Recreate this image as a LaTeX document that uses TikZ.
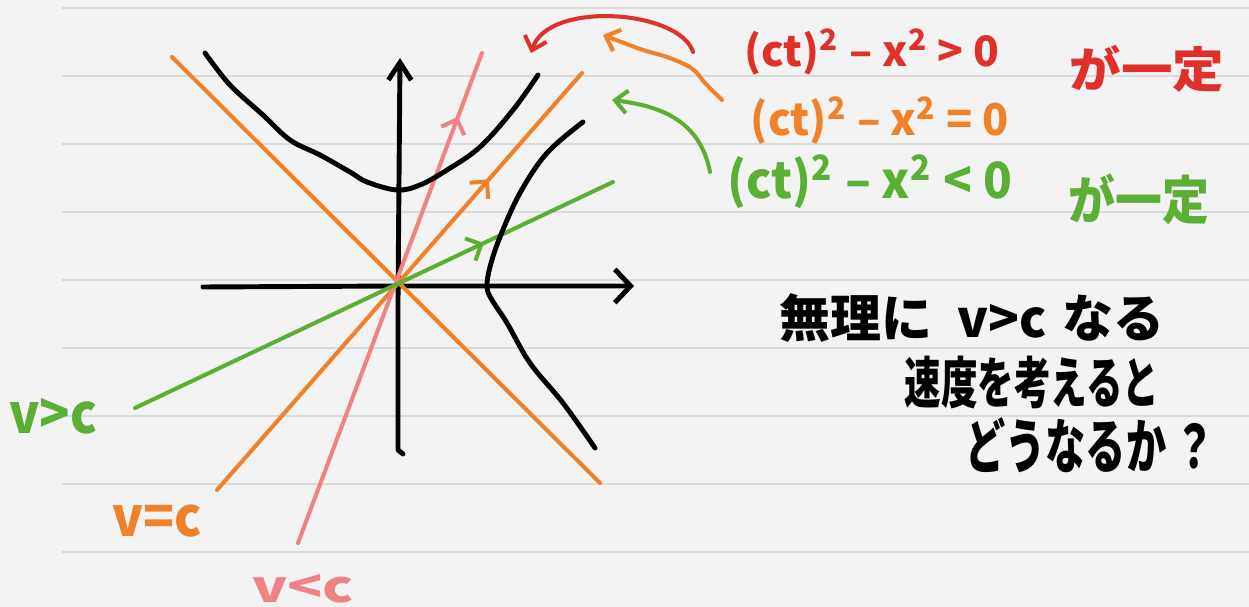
\documentclass[tikz,border=0pt]{standalone}
\usepackage{fontspec}
\setmainfont{Noto Sans CJK JP}
\usetikzlibrary{arrows.meta,decorations.markings}
\definecolor{paper}{HTML}{F3F3F3}
\definecolor{ruleclr}{HTML}{DADADA}
\definecolor{myred}{HTML}{E0302A}
\definecolor{myorange}{HTML}{F08128}
\definecolor{mygreen}{HTML}{5BAF35}
\definecolor{mypink}{HTML}{F08284}
\newcommand{\mysq}{\textsuperscript{2}}
\begin{document}
\begin{tikzpicture}[x=0.02cm,y=-0.02cm,
  pen/.style={line width=2.8pt,line cap=round,line join=round},
  cline/.style={line width=2.3pt,line cap=round,line join=round},
  ruleline/.style={ruleclr,line width=0.8pt},
  tip/.style={-{Straight Barb[length=7pt,width=13pt]}},
  midarrow/.style={postaction={decorate},decoration={markings,
    mark=at position #1 with {\arrow{Straight Barb[length=7pt,width=14pt]}}}},
  lbl/.style={inner sep=0pt,anchor=center,font=\bfseries}]
\fill[paper] (0,0) rectangle (1249,607);
\useasboundingbox (0,0) rectangle (1249,607);
\foreach \y in {8,76,...,552} \draw[ruleline] (62,\y) -- (1249,\y);

% axes
\draw[pen,-{Straight Barb[length=10pt,width=13pt]}] (403,454) -- (398,450) -- (398,300) -- (400,58);
\draw[pen,-{Straight Barb[length=9pt,width=19pt]}] (203,287) -- (400,286) -- (634,286);

% light-cone and world lines
\draw[cline,myorange] (172,57) -- (600,483);
\draw[cline,myorange,midarrow=0.745] (217,490) -- (582,73);
\draw[cline,mypink,midarrow=0.87] (298,543) -- (482,53);
\draw[cline,mygreen,midarrow=0.73] (135,408) -- (613,182);

% hyperbolas
\draw[pen] plot[smooth,tension=0.6] coordinates {(205,53) (230,85) (263,115) (290,140) (320,155) (350,172) (367,182) (397,190) (420,185) (447,170) (480,147) (513,110) (538,75)};
\draw[pen] plot[smooth,tension=0.6] coordinates {(583,122) (547,153) (520,193) (500,237) (490,267) (487,287) (492,300) (507,323) (530,363) (563,403) (595,448)};

% equations
\node[lbl,text=myred] (eqR) at (872,52) {\resizebox{145pt}{21pt}{(ct)\mysq{} – x\mysq{} > 0}};
\node[lbl,text=myred] (ktR) at (1147,69) {\resizebox{88pt}{24pt}{が一定}};
\node[lbl,text=myorange] (eqO) at (880,121) {\resizebox{147pt}{22pt}{(ct)\mysq{} – x\mysq{} = 0}};
\node[lbl,text=mygreen] (eqG) at (870,182) {\resizebox{162pt}{25pt}{(ct)\mysq{} – x\mysq{} < 0}};
\node[lbl,text=mygreen] (ktG) at (1139,199) {\resizebox{80pt}{26pt}{が一定}};

% annotation arrows
\coordinate (rs) at (693,52);
\coordinate (re) at (531,53);
\coordinate (os) at (722,100);
\coordinate (oe) at (603,35);
\coordinate (gs) at (710,172);
\coordinate (ge) at (612,100);
\draw[cline,myred,tip] (rs) .. controls (680,10) and (548,0) .. (re);
\draw[cline,myorange,tip] plot[smooth,tension=0.6] coordinates {(os) (705,83) (696,72) (686,65) (667,57) (643,50) (624,43) (oe)};
\draw[cline,mygreen,tip] (gs) .. controls (700,120) and (660,106) .. (ge);

% velocity labels
\node[lbl,text=mygreen] (lG) at (53,416) {\resizebox{50pt}{20pt}{v>c}};
\node[lbl,text=myorange] (lO) at (157,521) {\resizebox{51pt}{18pt}{v=c}};
\node[lbl,text=mypink] (lP) at (303,589) {\resizebox{58pt}{16pt}{v<c}};

% question text
\node[lbl] (q1) at (972,318) {\resizebox{219pt}{25pt}{無理に\hspace{0.5em}v>c\hspace{0.3em}なる}};
\node[lbl] (q2) at (1032,383) {\resizebox{145pt}{27pt}{速度を考えると}};
\node[lbl] (q3) at (1090,445) {\resizebox{142pt}{29pt}{どうなるか\hspace{0.2em}？}};
\end{tikzpicture}
\end{document}
